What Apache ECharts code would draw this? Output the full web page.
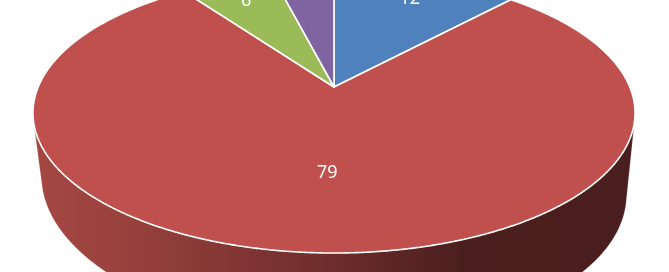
<!DOCTYPE html>
<html><head><meta charset="utf-8">
<script src="https://cdn.jsdelivr.net/npm/echarts@6/dist/echarts.min.js"></script>
<style>html,body{margin:0;padding:0;background:#fff;overflow:hidden}#chart{width:669px;height:272px}</style>
</head><body><div id="chart"></div>
<script>
const categories = ['Category 1', 'Category 2', 'Category 3', 'Category 4'];
const values = [12, 79, 6, 4];
const sliceColors = ['#4F81BD', '#C0504D', '#9BBB59', '#8064A2'];

const total = values.reduce((s, v) => s + v, 0);
const starts = [];
let acc = 0;
values.forEach(v => { starts.push(acc); acc += v; });

// perspective camera for the 3D pie (layout constants)
const CX = 334, CY = 87, F = 1416.6, D = 4.789, SIN = 0.457, COS = Math.sqrt(1 - SIN * SIN), H = 0.293;
function proj(a, r, z) {
  const X = r * Math.sin(a), Y = r * Math.cos(a);
  const depth = D + Y * COS - z * SIN;
  const sy = Y * SIN + z * COS;
  let x = CX + F * X / depth, y = CY - F * sy / depth;
  if (z < 0) y += 0.031 * (x - CX) - 4; // slight skew of the base, as in the original rendering
  return [x, y];
}
const aVis = Math.acos(-1 / (D * COS));
const x0 = 35, x1 = 640, w = x1 - x0;
const wallGrad = new echarts.graphic.LinearGradient(x0, 0, x1, 0, [
  { offset: 0, color: '#A44743' },
  { offset: (117 - x0) / w, color: '#9A423E' },
  { offset: (346 - x0) / w, color: '#6A2B2A' },
  { offset: (460 - x0) / w, color: '#4C1F1F' },
  { offset: 1, color: '#4A1E1E' }
], true);

const chart = echarts.init(document.getElementById('chart'), null, { renderer: 'canvas' });
chart.setOption({
  animation: false,
  backgroundColor: '#ffffff',
  series: [{
    type: 'custom',
    coordinateSystem: 'none',
    data: values.map((v, i) => ({ name: categories[i], value: v })),
    renderItem: function (params, api) {
      const i = params.dataIndex;
      const v = api.value(0);
      const a0 = starts[i] / total * 2 * Math.PI;
      const a1 = (starts[i] + v) / total * 2 * Math.PI;
      const children = [];
      const wa0 = Math.max(a0, aVis), wa1 = Math.min(a1, 2 * Math.PI - aVis);
      if (wa1 > wa0) {
        const pts = [];
        const n = Math.max(2, Math.ceil((wa1 - wa0) / 0.005));
        for (let k = 0; k <= n; k++) pts.push(proj(wa0 + (wa1 - wa0) * k / n, 1, 0));
        for (let k = n; k >= 0; k--) pts.push(proj(wa0 + (wa1 - wa0) * k / n, 1, -H));
        children.push({ type: 'polygon', z2: 1, shape: { points: pts },
          style: { fill: wallGrad, stroke: 'rgba(255,255,255,0.35)', lineWidth: 0.6 } });
      }
      const tp = [proj(0, 0, 0)];
      const n2 = Math.max(2, Math.ceil((a1 - a0) / 0.005));
      for (let k = 0; k <= n2; k++) tp.push(proj(a0 + (a1 - a0) * k / n2, 1, 0));
      children.push({ type: 'polygon', z2: 10, shape: { points: tp },
        style: { fill: sliceColors[i], stroke: '#ffffff', lineWidth: 1.6, lineJoin: 'round' } });
      const am = (a0 + a1) / 2;
      const big = v / total > 0.5;
      const lp = proj(am, big ? 0.57 : 0.8, 0);
      children.push({ type: 'text', z2: 20, style: {
        text: String(v), x: lp[0] + (big ? 5 : 0), y: lp[1], fill: '#ffffff',
        font: '18px "Noto Sans", sans-serif', align: 'center', verticalAlign: 'middle' } });
      return { type: 'group', children };
    }
  }]
});
</script>
</body></html>
